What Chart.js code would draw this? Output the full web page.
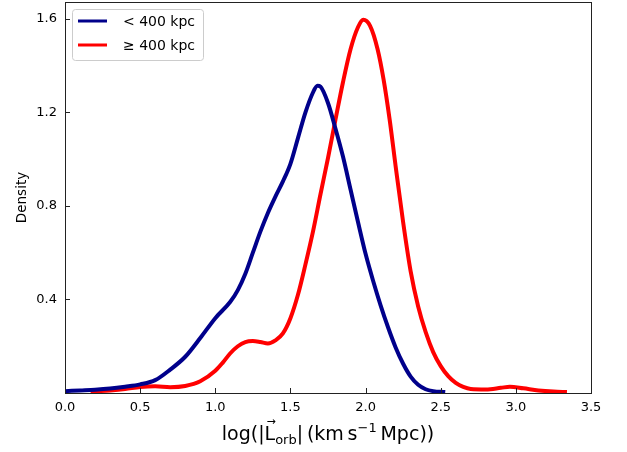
<!DOCTYPE html>
<html>
<head>
<meta charset="utf-8">
<script src="https://cdn.jsdelivr.net/npm/chart.js@4"></script>
<style>
  html, body { margin: 0; padding: 0; background: #fff; }
  #wrap { width: 627px; height: 452px; }
</style>
</head>
<body>
<div id="wrap"><canvas id="kde"></canvas></div>
<script>
// density curves of log |L_orb|, split by distance
const nearX = [0, 0.1, 0.2, 0.3, 0.4, 0.5, 0.6, 0.7, 0.8, 0.9, 1.0, 1.1, 1.15, 1.2, 1.25, 1.3, 1.35, 1.4, 1.45, 1.5, 1.55, 1.6, 1.65, 1.68, 1.7, 1.75, 1.8, 1.85, 1.9, 1.95, 2.0, 2.05, 2.1, 2.15, 2.2, 2.25, 2.3, 2.35, 2.4, 2.45, 2.53];
const nearY = [0.008, 0.011, 0.014, 0.019, 0.027, 0.037, 0.055, 0.10, 0.155, 0.235, 0.32, 0.39, 0.44, 0.51, 0.60, 0.69, 0.77, 0.84, 0.905, 0.98, 1.09, 1.20, 1.285, 1.314, 1.31, 1.24, 1.13, 1.01, 0.87, 0.73, 0.595, 0.48, 0.375, 0.28, 0.195, 0.125, 0.07, 0.035, 0.016, 0.008, 0.004];

const farX = [0.17, 0.3, 0.4, 0.5, 0.6, 0.7, 0.8, 0.9, 1.0, 1.05, 1.1, 1.15, 1.2, 1.25, 1.3, 1.35, 1.4, 1.45, 1.5, 1.55, 1.6, 1.65, 1.7, 1.75, 1.8, 1.85, 1.9, 1.95, 1.985, 2.03, 2.08, 2.12, 2.16, 2.2, 2.25, 2.3, 2.35, 2.4, 2.45, 2.5, 2.55, 2.6, 2.65, 2.7, 2.8, 2.9, 2.96, 3.05, 3.15, 3.25, 3.34];
const farY = [0.006, 0.011, 0.017, 0.026, 0.029, 0.025, 0.03, 0.05, 0.095, 0.13, 0.17, 0.20, 0.218, 0.222, 0.218, 0.212, 0.225, 0.255, 0.32, 0.42, 0.55, 0.69, 0.85, 1.005, 1.17, 1.33, 1.47, 1.565, 1.596, 1.57, 1.47, 1.34, 1.17, 0.97, 0.73, 0.52, 0.37, 0.26, 0.175, 0.115, 0.072, 0.043, 0.026, 0.017, 0.015, 0.022, 0.027, 0.02, 0.011, 0.006, 0.004];

const xTicks = [0, 0.5, 1.0, 1.5, 2.0, 2.5, 3.0, 3.5];
const yTicks = [0.4, 0.8, 1.2, 1.6];
const labels = ['< 400 kpc', '\u2265 400 kpc'];

const FONT = 'DejaVu Sans';

function pts(xs, ys) {
  return xs.map((x, i) => ({ x: x, y: ys[i] }));
}

// frame + inward tick marks, like a matplotlib axes box
const framePlugin = {
  id: 'frame',
  afterDraw(chart) {
    const ctx = chart.ctx;
    const a = chart.chartArea;
    const xs = chart.scales.x, ys = chart.scales.y;
    ctx.save();
    ctx.strokeStyle = '#222';
    ctx.lineWidth = 1;
    ctx.strokeRect(Math.round(a.left) + 0.5, Math.round(a.top) + 0.5,
      Math.round(a.right - a.left), Math.round(a.bottom - a.top));
    ctx.beginPath();
    xTicks.forEach(v => {
      const px = Math.round(xs.getPixelForValue(v)) + 0.5;
      ctx.moveTo(px, a.bottom);
      ctx.lineTo(px, a.bottom - 5);
    });
    yTicks.forEach(v => {
      const py = Math.round(ys.getPixelForValue(v)) + 0.5;
      ctx.moveTo(a.left, py);
      ctx.lineTo(a.left + 5, py);
    });
    ctx.stroke();
    ctx.restore();
  }
};

// x-axis title with subscript / superscript / vector arrow
const xTitlePlugin = {
  id: 'xTitle',
  afterDraw(chart) {
    const ctx = chart.ctx;
    const a = chart.chartArea;
    const big = '19px "' + FONT + '"';
    const small = '13px "' + FONT + '"';
    const parts = [
      { t: 'log(|', f: big, dy: 0 },
      { t: 'L', f: big, dy: 0, arrow: true },
      { t: 'orb', f: small, dy: 4 },
      { t: '|\u2009(km\u2009s', f: big, dy: 0 },
      { t: '\u22121', f: small, dy: -8 },
      { t: '\u2009Mpc))', f: big, dy: 0 }
    ];
    ctx.save();
    let total = 0;
    parts.forEach(p => { ctx.font = p.f; p.w = ctx.measureText(p.t).width; total += p.w; });
    let x = (a.left + a.right) / 2 - total / 2;
    const base = 440;
    ctx.fillStyle = '#000';
    ctx.textBaseline = 'alphabetic';
    ctx.textAlign = 'left';
    parts.forEach(p => {
      ctx.font = p.f;
      ctx.fillText(p.t, x, base + p.dy);
      if (p.arrow) {
        ctx.font = '11px "' + FONT + '"';
        ctx.fillText('\u2192', x + 2, base - 15);
      }
      x += p.w;
    });
    ctx.restore();
  }
};

// legend box in the upper left corner of the plot
const legendPlugin = {
  id: 'boxLegend',
  afterDraw(chart) {
    const ctx = chart.ctx;
    const bx = 72.5, by = 9.5, bw = 131, bh = 51, r = 3;
    ctx.save();
    ctx.beginPath();
    ctx.roundRect(bx, by, bw, bh, r);
    ctx.fillStyle = 'rgba(255,255,255,0.8)';
    ctx.fill();
    ctx.strokeStyle = '#cccccc';
    ctx.lineWidth = 1;
    ctx.stroke();
    ctx.font = '14px "' + FONT + '"';
    ctx.textBaseline = 'middle';
    ctx.fillStyle = '#000';
    chart.data.datasets.forEach((ds, i) => {
      const y = 21 + i * 24;
      ctx.beginPath();
      ctx.moveTo(78, y);
      ctx.lineTo(107, y);
      ctx.strokeStyle = ds.borderColor;
      ctx.lineWidth = 3;
      ctx.stroke();
      ctx.fillText(ds.label, 123, y + 1);
    });
    ctx.restore();
  }
};

new Chart(document.getElementById('kde'), {
  type: 'line',
  data: {
    datasets: [
      { label: labels[0], data: pts(nearX, nearY), borderColor: '#00008b', borderWidth: 4, pointRadius: 0, cubicInterpolationMode: 'monotone', fill: false },
      { label: labels[1], data: pts(farX, farY), borderColor: '#ff0000', borderWidth: 4, pointRadius: 0, cubicInterpolationMode: 'monotone', fill: false }
    ]
  },
  options: {
    responsive: true,
    maintainAspectRatio: false,
    animation: false,
    layout: { padding: { top: 2, right: 36, left: 0, bottom: 0 } },
    plugins: {
      legend: { display: false },
      tooltip: { enabled: false }
    },
    scales: {
      x: {
        type: 'linear',
        min: 0,
        max: 3.5,
        grid: { display: false, drawTicks: false },
        border: { display: false },
        afterBuildTicks: s => { s.ticks = xTicks.map(v => ({ value: v })); },
        afterFit: s => { s.height = 59; s.paddingLeft = 0; s.paddingRight = 0; },
        ticks: {
          padding: 7,
          maxRotation: 0,
          color: '#000',
          font: { family: FONT, size: 13 },
          callback: v => v.toFixed(1)
        }
      },
      y: {
        min: 0,
        max: 1.672,
        grid: { display: false, drawTicks: false },
        border: { display: false },
        afterBuildTicks: s => { s.ticks = yTicks.map(v => ({ value: v })); },
        afterFit: s => { s.width = 65; s.paddingTop = 0; s.paddingBottom = 0; },
        title: {
          display: true,
          text: 'Density',
          color: '#000',
          font: { family: FONT, size: 13.5 },
          padding: { top: 14, bottom: 0 }
        },
        ticks: {
          padding: 8,
          color: '#000',
          font: { family: FONT, size: 13 },
          callback: v => v.toFixed(1)
        }
      }
    }
  },
  plugins: [framePlugin, xTitlePlugin, legendPlugin]
});
</script>
</body>
</html>
